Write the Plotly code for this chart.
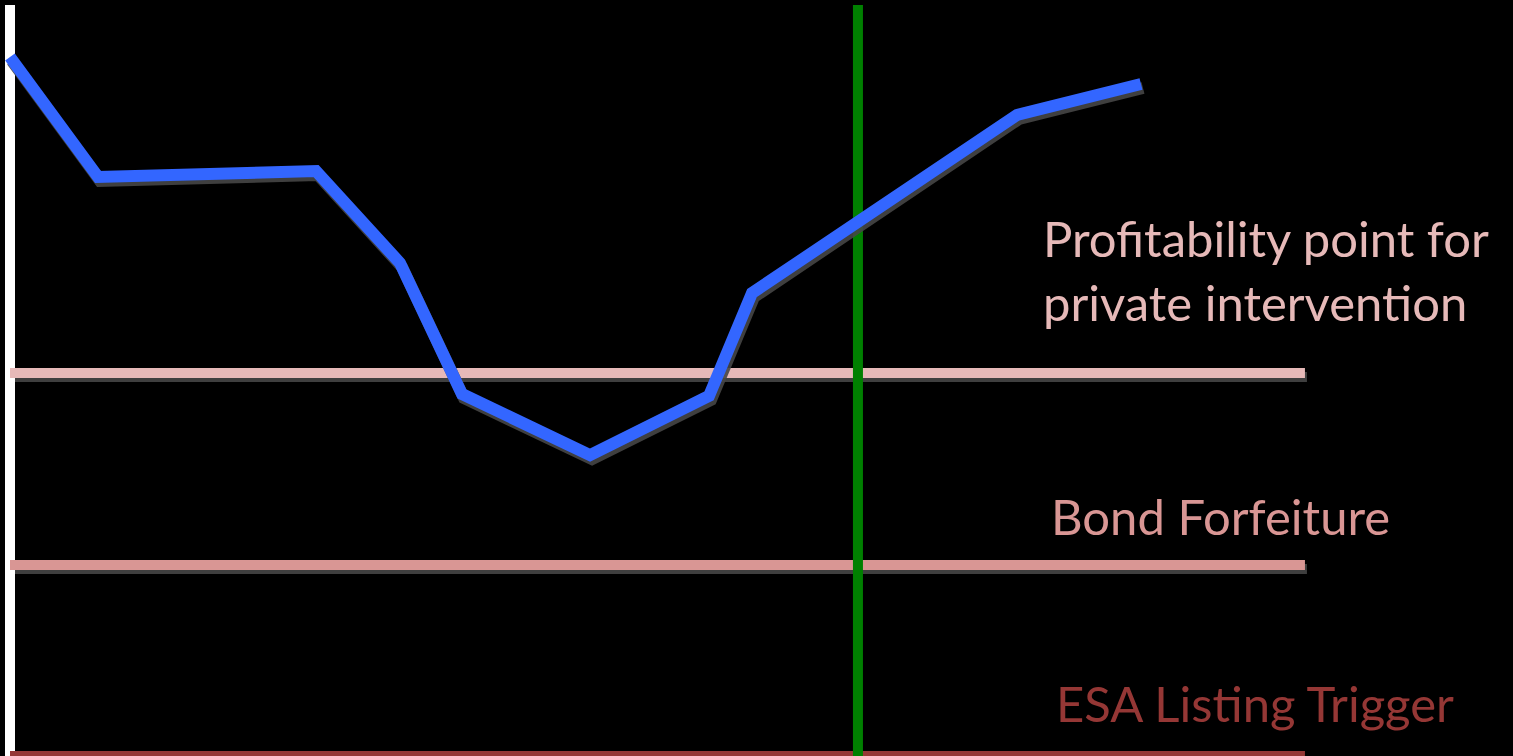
import plotly.graph_objects as go

# Population trajectory over time (arbitrary time units, index 0-100)
time = [0.0, 5.87, 20.4, 26.0, 30.13, 38.67, 46.6, 49.47, 67.13, 75.4]
population = [92.46, 76.59, 77.38, 65.21, 47.88, 39.8, 47.62, 61.24, 84.79, 88.89]

# Threshold levels
threshold_names = ["Profitability point for<br>private intervention", "Bond Forfeiture", "ESA Listing Trigger"]
threshold_values = [50.66, 25.26, 0.0]
threshold_colors = ["#e6b9b8", "#d99694", "#953735"]
threshold_end = 86.33

# Time of intervention marker
intervention_time = 56.53
axis_top = 99.34

W, H = 1513, 756
X0, X1 = -10 / 15, (W - 10) / 15
Y0, Y1 = 0.0, 100.0


def dx(px):
    return px * (X1 - X0) / W


def dy(px):
    return px * (Y1 - Y0) / H


SHADOW = "rgba(70,70,70,0.9)"
sx, sy = dx(2), dy(4)

fig = go.Figure()

# threshold shadows
for v in threshold_values[:2]:
    fig.add_trace(go.Scatter(x=[0 + sx, threshold_end + sx], y=[v - sy, v - sy], mode="lines",
                             line=dict(color=SHADOW, width=10), hoverinfo="skip"))

# vertical axis line
fig.add_trace(go.Scatter(x=[0, 0], y=[0, axis_top], mode="lines",
                         line=dict(color="#ffffff", width=10), hoverinfo="skip"))

# threshold lines
for v, c in zip(threshold_values, threshold_colors):
    fig.add_trace(go.Scatter(x=[0, threshold_end], y=[v, v], mode="lines",
                             line=dict(color=c, width=10), hoverinfo="skip"))

# intervention marker
fig.add_trace(go.Scatter(x=[intervention_time, intervention_time], y=[0, axis_top], mode="lines",
                         line=dict(color="#008000", width=10), hoverinfo="skip"))

# population line with drop shadow
fig.add_trace(go.Scatter(x=[t + sx for t in time], y=[p - sy for p in population], mode="lines",
                         line=dict(color=SHADOW, width=12), hoverinfo="skip"))
fig.add_trace(go.Scatter(x=time, y=population, mode="lines",
                         line=dict(color="#3366ff", width=12), hoverinfo="skip"))

# threshold labels
label_pos = [(1041, 270), (1049, 516), (1054, 703)]
for name, c, (px, py) in zip(threshold_names, threshold_colors, label_pos):
    fig.add_annotation(x=X0 + dx(px), y=Y1 - dy(py), text=name, showarrow=False,
                       xanchor="left", yanchor="middle", align="left",
                       font=dict(family="Lato", size=49, color=c))

fig.update_layout(
    width=W, height=H,
    margin=dict(l=0, r=0, t=0, b=0),
    paper_bgcolor="#000000", plot_bgcolor="#000000",
    showlegend=False,
    xaxis=dict(range=[X0, X1], visible=False, fixedrange=True),
    yaxis=dict(range=[Y0, Y1], visible=False, fixedrange=True),
)

fig.write_html("out.html", config={"displayModeBar": False})
